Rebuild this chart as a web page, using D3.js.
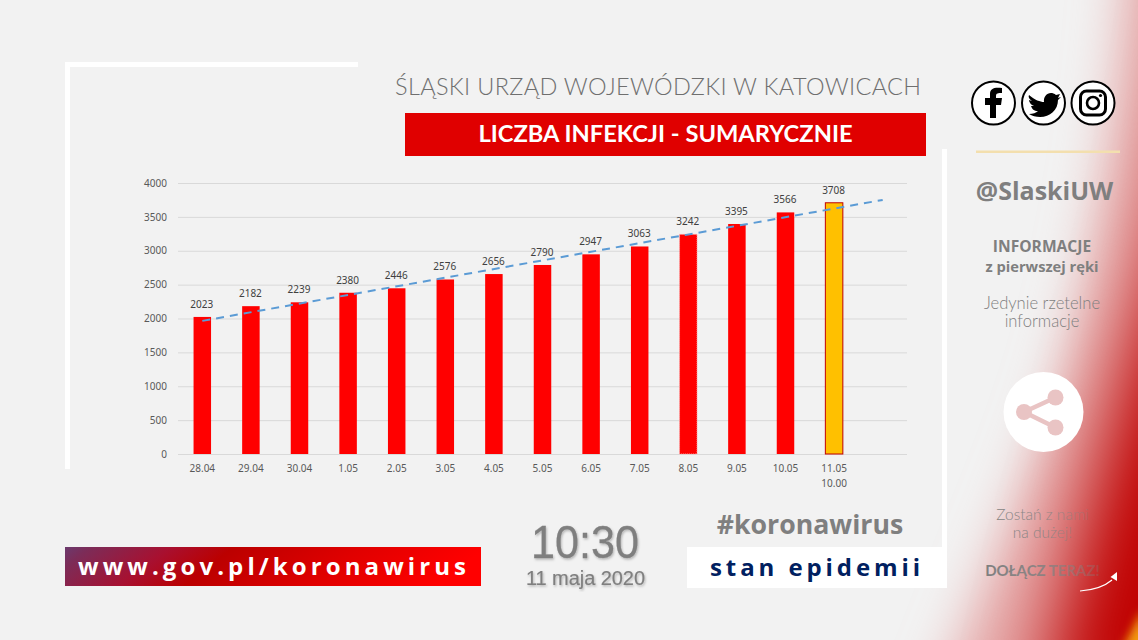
<!DOCTYPE html>
<html lang="pl">
<head>
<meta charset="utf-8">
<title>Liczba infekcji - sumarycznie</title>
<script src="https://cdn.jsdelivr.net/npm/d3@7"></script>
<style>
html,body{margin:0;padding:0;background:#f2f2f2;overflow:hidden}
svg{display:block}
text{font-family:"Open Sans",sans-serif}
</style>
</head>
<body>
<svg id="slide" width="1138" height="640"></svg>
<script>
// Daily cumulative infection counts for the Silesian voivodeship
const categories = ["28.04","29.04","30.04","1.05","2.05","3.05","4.05","5.05","6.05","7.05","8.05","9.05","10.05","11.05"];
const values = [2023,2182,2239,2380,2446,2576,2656,2790,2947,3063,3242,3395,3566,3708];
const yTicks = [0,500,1000,1500,2000,2500,3000,3500,4000];
const trendStart = 1965;
const trendEnd = 3750;
const emptySlot = "";

const svg = d3.select("#slide");
const defs = svg.append("defs");

// Slide background with the soft red sweep on the right edge
svg.append("rect").attr("width",1138).attr("height",640).attr("fill","#f2f2f2");
const blur = (id,sd)=>defs.append("filter").attr("id",id)
  .attr("filterUnits","userSpaceOnUse").attr("x",600).attr("y",-300).attr("width",900).attr("height",1300)
  .append("feGaussianBlur").attr("stdDeviation",sd);
blur("soft1",25); blur("soft2",38); blur("soft3",5);
svg.append("path").attr("d","M1128,-80 C1122,100 1095,240 1068,350 C1035,470 990,560 930,720 L1400,720 L1400,-80Z")
  .attr("fill","#e6acac").attr("filter","url(#soft1)");
svg.append("path").attr("d","M1215,-60 C1190,150 1160,270 1132,350 C1105,450 1075,540 1035,720 L1500,720 L1500,-60Z")
  .attr("fill","#c00000").attr("filter","url(#soft2)");
svg.append("path").attr("d","M1150,650 L1142,610 L1122,650Z").attr("fill","#f39a10").attr("filter","url(#soft3)");

// Soft shadow shared by the clock texts
const shadow = defs.append("filter").attr("id","textShadow");
shadow.append("feDropShadow").attr("dx",1).attr("dy",1.5).attr("stdDeviation",1).attr("flood-color","#000").attr("flood-opacity",.25);

// White corner brackets around the chart
svg.append("rect").attr("x",65).attr("y",62).attr("width",293).attr("height",5).attr("fill","#fff");
svg.append("rect").attr("x",65).attr("y",62).attr("width",5).attr("height",407).attr("fill","#fff");
svg.append("rect").attr("x",942).attr("y",149).attr("width",5).attr("height",398).attr("fill","#fff");

// Heading
svg.append("text").attr("x",395).attr("y",95).attr("font-size",23.5).attr("fill","#6f6f6f")
  .style("font-family","Lato").style("font-weight",300).attr("textLength",526)
  .text("ŚLĄSKI URZĄD WOJEWÓDZKI W KATOWICACH");
svg.append("rect").attr("x",405).attr("y",113).attr("width",521).attr("height",43).attr("fill","#e00000");
svg.append("text").attr("x",665.5).attr("y",142).attr("text-anchor","middle").attr("font-size",23.7)
  .attr("font-weight",700).attr("fill","#fff").style("font-family","Lato")
  .text("LICZBA INFEKCJI - SUMARYCZNIE");

// Bar chart: one spare slot on the right leaves room for the trend line
const x = d3.scaleBand().domain([...categories,emptySlot]).range([178,907]).paddingInner(.64).paddingOuter(.32);
const y = d3.scaleLinear().domain([0,4000]).range([454,183]);
const chart = svg.append("g").attr("id","chart");

const yAxis = d3.axisLeft(y).tickValues(yTicks).tickSize(-729).tickPadding(11).tickFormat(d3.format("d"));
const gy = chart.append("g").attr("transform","translate(178,0)").call(yAxis);
gy.select(".domain").remove();
gy.selectAll(".tick line").attr("stroke","#d9d9d9");
gy.selectAll(".tick text").attr("font-size",10).attr("fill","#595959").style("font-family","Noto Sans");

const xAxis = d3.axisBottom(x).tickSize(0).tickPadding(11);
const gx = chart.append("g").attr("transform","translate(0,454)").call(xAxis);
gx.select(".domain").remove();
gx.selectAll(".tick text").attr("font-size",10).attr("fill","#595959").style("font-family","Noto Sans");
gx.selectAll(".tick").filter(d=>d==="11.05").append("text")
  .attr("x",0).attr("y",26).attr("dy",".71em").attr("text-anchor","middle")
  .attr("font-size",10).attr("fill","#595959").style("font-family","Noto Sans").text("10.00");

const last = categories[categories.length-1];
const dotted = "8.05";
chart.selectAll("rect.bar").data(values).join("rect").attr("class","bar")
  .attr("x",(d,i)=>x(categories[i])).attr("width",x.bandwidth())
  .attr("y",d=>y(d)).attr("height",d=>y(0)-y(d))
  .attr("fill",(d,i)=>categories[i]===last?"#ffc000":"#ff0000")
  .attr("stroke",(d,i)=>categories[i]===last?"#c00000":categories[i]===dotted?"#ffb0b0":"none")
  .attr("stroke-dasharray",(d,i)=>categories[i]===dotted?"1 1":null)
  .attr("stroke-width",1);

chart.selectAll("text.value").data(values).join("text").attr("class","value")
  .attr("x",(d,i)=>x(categories[i])+x.bandwidth()/2-.5).attr("y",d=>y(d)-9)
  .attr("text-anchor","middle").attr("font-size",10).attr("fill","#404040").style("font-family","Noto Sans").text(d=>d);

// Linear trend across all slots
const cx = c=>x(c)+x.bandwidth()/2;
chart.append("line").attr("x1",cx(categories[0])).attr("y1",y(trendStart))
  .attr("x2",cx(emptySlot)).attr("y2",y(trendEnd))
  .attr("stroke","#5b9bd5").attr("stroke-width",2).attr("stroke-dasharray","8 6");

// Footer
const urlGrad = defs.append("linearGradient").attr("id","url").attr("x1",0).attr("y1",0).attr("x2",1).attr("y2",.12);
[[0,"#6b3a6e"],[.06,"#7c2c58"],[.25,"#a81030"],[.4,"#bb0000"],[.7,"#e00000"],[1,"#ff0000"]].forEach(s=>
  urlGrad.append("stop").attr("offset",s[0]).attr("stop-color",s[1]));
svg.append("rect").attr("x",65).attr("y",547).attr("width",416).attr("height",39).attr("fill","url(#url)");
svg.append("text").attr("x",78).attr("y",575).attr("font-size",24).attr("font-weight",700)
  .attr("fill","#fff").attr("textLength",388).style("font-family","Open Sans").text("www.gov.pl/koronawirus");
svg.append("text").attr("x",531).attr("y",558).attr("font-size",47).attr("font-weight",400)
  .attr("textLength",108).attr("lengthAdjust","spacingAndGlyphs").attr("stroke","#7f7f7f").attr("stroke-width",.3)
  .attr("fill","#7f7f7f").attr("filter","url(#textShadow)").style("font-family","Liberation Sans").text("10:30");
svg.append("text").attr("x",585.5).attr("y",585).attr("text-anchor","middle").attr("font-size",20)
  .attr("textLength",119).attr("stroke","#7f7f7f").attr("stroke-width",.2)
  .attr("fill","#7f7f7f").attr("filter","url(#textShadow)").style("font-family","Liberation Sans").text("11 maja 2020");
svg.append("text").attr("x",810).attr("y",534).attr("text-anchor","middle").attr("font-size",26.7)
  .attr("font-weight",700).attr("fill","#7f7f7f").style("font-family","Open Sans").text("#koronawirus");
svg.append("rect").attr("x",687).attr("y",547).attr("width",260).attr("height",41).attr("fill","#fff");
svg.append("text").attr("x",710).attr("y",576).attr("font-size",24)
  .attr("font-weight",700).attr("fill","#002060").attr("textLength",210).style("font-family","Open Sans").text("stan epidemii");

// Social icons
const icons = svg.append("g").attr("id","social");
[993.5,1043.5,1093].forEach(cxi=>icons.append("circle").attr("cx",cxi).attr("cy",103).attr("r",21.5)
  .attr("fill","#fff").attr("stroke","#000").attr("stroke-width",2));
icons.append("path").attr("d","M990,118 V105 H985 V98 H990 V94 C990,88 995,87 1002,88 V93 C998,93 996,93 996,96 V98 H1002 L1001,105 H996 V118Z").attr("fill","#000");
icons.append("path").attr("d","M1029,95 C1035,100 1040,102 1044,102 C1043,95 1050,90 1056,95 L1060,94 L1058,98 L1061,97 L1058,100 C1058,110 1050,117 1040,117 C1036,117 1032,116 1029,114 C1033,114 1036,113 1038,111 C1034,111 1032,109 1031,106 L1034,106 C1031,105 1029,102 1029,100 L1032,101 C1029,99 1028,97 1029,95Z").attr("fill","#000");
icons.append("rect").attr("x",1080.5).attr("y",91).attr("width",25).attr("height",24).attr("rx",6).attr("fill","none").attr("stroke","#000").attr("stroke-width",3);
icons.append("circle").attr("cx",1093).attr("cy",103).attr("r",6).attr("fill","none").attr("stroke","#000").attr("stroke-width",2.6);
icons.append("circle").attr("cx",1100.5).attr("cy",95.5).attr("r",1.6).attr("fill","#000");

// Right column
svg.append("rect").attr("x",976).attr("y",150.5).attr("width",144).attr("height",2.5).attr("fill","#f3dfae");
svg.append("text").attr("x",1044.5).attr("y",200).attr("text-anchor","middle").attr("font-size",25)
  .attr("font-weight",700).attr("fill","#7f7f7f").style("font-family","Open Sans").text("@SlaskiUW");
svg.append("text").attr("x",1042).attr("y",252).attr("text-anchor","middle").attr("font-size",15.6)
  .attr("font-weight",700).attr("fill","#7f7f7f").style("font-family","Open Sans").text("INFORMACJE");
svg.append("text").attr("x",1042).attr("y",272).attr("text-anchor","middle").attr("font-size",14.7)
  .attr("font-weight",700).attr("fill","#7f7f7f").style("font-family","Open Sans").text("z pierwszej ręki");
svg.append("text").attr("x",1042).attr("y",309).attr("text-anchor","middle").attr("font-size",16.6)
  .attr("fill","#7f7f7f").style("font-family","Lato").style("font-weight",300).text("Jedynie rzetelne");
svg.append("text").attr("x",1042).attr("y",327).attr("text-anchor","middle").attr("font-size",16.6)
  .attr("fill","#7f7f7f").style("font-family","Lato").style("font-weight",300).text("informacje");

// Share badge
svg.append("circle").attr("cx",1043.5).attr("cy",412).attr("r",40).attr("fill","#fff");
const share = svg.append("g").attr("fill","#e9c4c4").attr("stroke","#e9c4c4");
share.append("path").attr("d","M1055.5,397.5 L1024,412 L1055.5,427.5").attr("fill","none").attr("stroke-width",4.5);
[[1055.5,397.5],[1024,412],[1055.5,427.5]].forEach(p=>share.append("circle").attr("cx",p[0]).attr("cy",p[1]).attr("r",8).attr("stroke","none"));

// Invitation: lettering fades into the red sweep towards the right
const fade = defs.append("linearGradient").attr("id","fade").attr("gradientUnits","userSpaceOnUse")
  .attr("x1",990).attr("y1",0).attr("x2",1105).attr("y2",0);
[[0,"#808080",1],[.45,"#808080",.85],[1,"#808080",.2]].forEach(s=>
  fade.append("stop").attr("offset",s[0]).attr("stop-color",s[1]).attr("stop-opacity",s[2]));
svg.append("text").attr("x",1042.5).attr("y",520).attr("text-anchor","middle").attr("font-size",15.5)
  .attr("fill","url(#fade)").style("font-family","Lato").style("font-weight",300).text("Zostań z nami");
svg.append("text").attr("x",1042.5).attr("y",538).attr("text-anchor","middle").attr("font-size",15.5)
  .attr("fill","url(#fade)").style("font-family","Lato").style("font-weight",300).text("na dużej!");
svg.append("text").attr("x",1042.5).attr("y",576).attr("text-anchor","middle").attr("font-size",15)
  .attr("font-weight",700).attr("fill","url(#fade)").style("font-family","Lato").text("DOŁĄCZ TERAZ!");
svg.append("path").attr("d","M1080,591 C1094,590 1105,586 1112,580").attr("fill","none").attr("stroke","#fff").attr("stroke-width",1.2);
svg.append("path").attr("d","M1117,572 L1117,581 L1110.5,577Z").attr("fill","#fff");
</script>
</body>
</html>
